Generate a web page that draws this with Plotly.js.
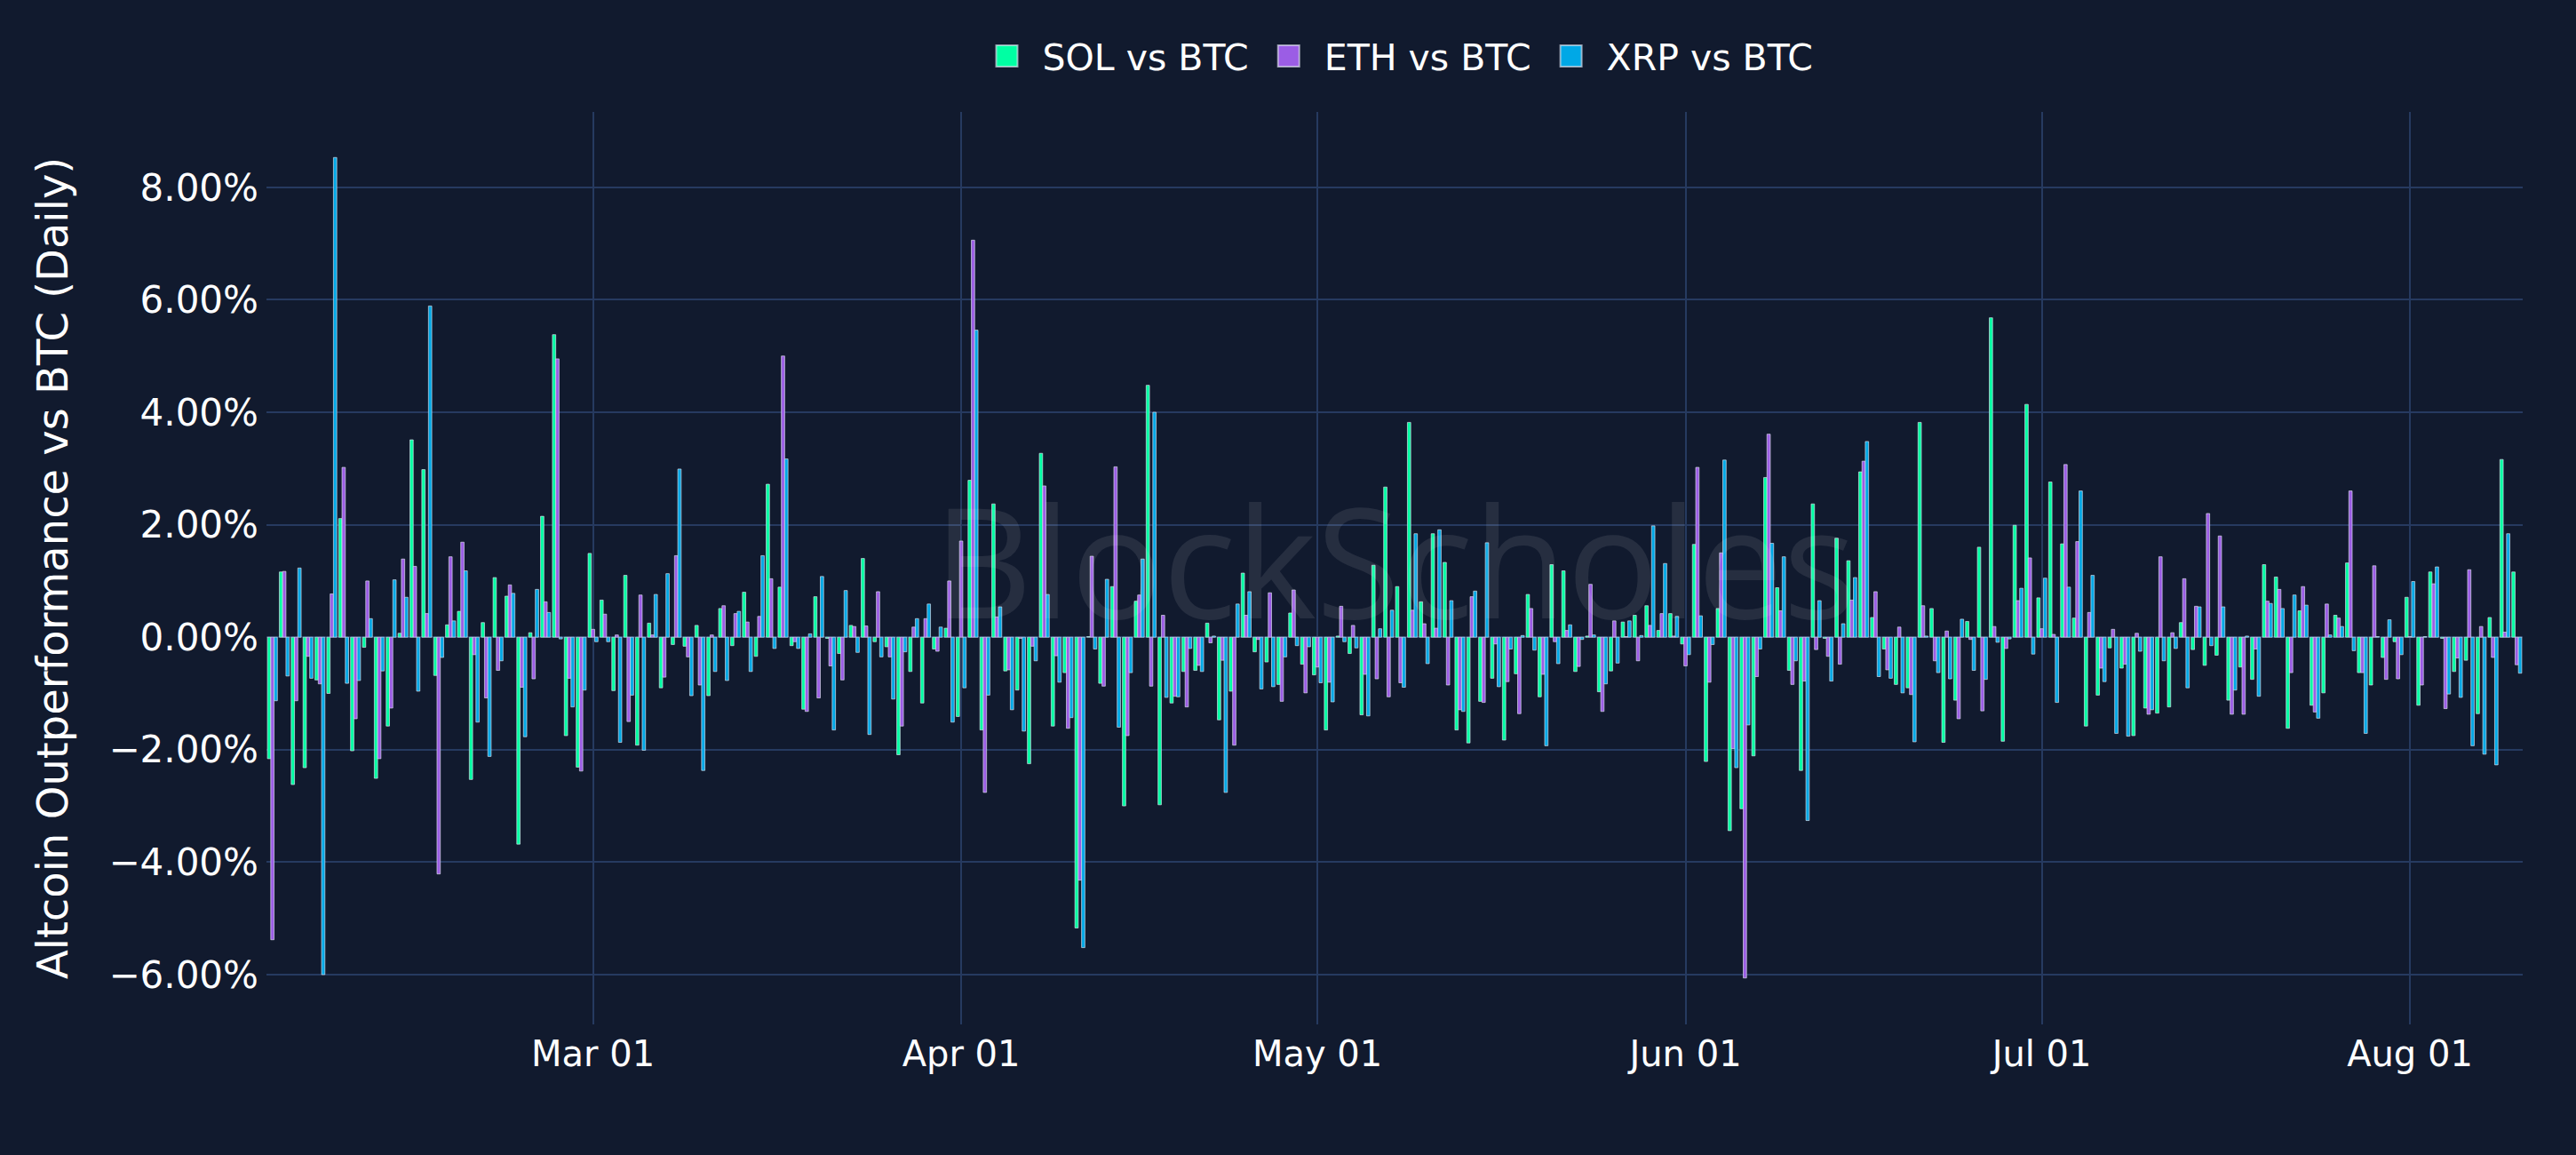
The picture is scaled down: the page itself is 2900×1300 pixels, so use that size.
<!DOCTYPE html>
<html>
<head>
<meta charset="utf-8">
<script src="https://cdn.plot.ly/plotly-3.0.1.min.js"></script>
<style>
  html, body { margin: 0; padding: 0; background: #111a2e; }
  #chart { width: 2900px; height: 1300px; }
</style>
</head>
<body>
<div id="chart"></div>
<script>
// daily outperformance vs BTC, in percent, one value per day from startDate
const startDate = '2024-02-03';
const dayCount = 190;

const seriesNames = ['SOL vs BTC', 'ETH vs BTC', 'XRP vs BTC'];
const seriesColors = ['#00ffa3', '#9b5de5', '#00a8e6'];

const solVsBtc = [
  -2.16, 1.16, -2.62, -2.32, -0.76, -1.00, 2.11, -2.02, -0.18, -2.51,
  -1.58, 0.07, 3.51, 2.98, -0.68, 0.22, 0.46, -2.53, 0.26, 1.06,
  0.73, -3.68, 0.08, 2.15, 5.38, -1.75, -2.31, 1.49, 0.66, -0.95,
  1.10, -1.92, 0.25, -0.90, -0.13, -0.16, 0.21, -1.04, 0.51, -0.15,
  0.80, -0.34, 2.72, 0.89, -0.15, -1.28, 0.72, -0.02, -0.29, 0.21,
  1.40, -0.08, -0.17, -2.09, -0.61, -1.17, -0.21, 0.16, -1.41, 2.79,
  -1.65, 2.37, -0.60, -0.94, -2.25, 3.27, -1.58, -0.63, -5.17, 0.01,
  -0.82, 0.90, -3.00, 0.64, 4.48, -2.98, -1.17, -0.61, -0.59, 0.25,
  -1.47, -0.96, 1.14, -0.26, -0.44, -0.84, 0.43, -0.48, -0.67, -1.65,
  0.02, -0.29, -1.38, 1.28, 2.67, 0.90, 3.82, 0.63, 1.84, 1.33,
  -1.65, -1.88, -1.14, -0.73, -1.83, -0.65, 0.76, -1.06, 1.29, 1.18,
  -0.61, 0.02, -0.97, -0.60, 0.27, 0.39, 0.56, 0.12, 0.42, -0.12,
  1.65, -2.21, 0.51, -3.44, -3.05, -2.11, 2.84, 0.88, -0.59, -2.37,
  2.37, -0.02, 1.76, 1.36, 2.94, 0.35, -0.21, -0.84, -0.90, 3.82,
  0.51, -1.87, -1.12, 0.28, 1.60, 5.68, -1.85, 1.99, 4.14, 0.70,
  2.76, 1.66, 0.34, -1.58, -1.03, -0.19, -0.55, -1.75, -1.26, -1.35,
  -1.24, 0.26, -0.22, -0.50, -0.32, -1.12, -0.53, -0.75, 1.29, 1.07,
  -1.62, 0.47, -1.21, -0.99, 0.39, 1.32, -0.63, -0.85, -0.36, -0.08,
  0.71, -1.21, 1.16, -0.02, -0.61, -0.41, -1.36, 0.35, 3.16, 1.16
];

const ethVsBtc = [
  -5.38, 1.17, -1.13, -0.34, -0.83, 0.77, 3.02, -1.45, 1.00, -2.16,
  -1.26, 1.39, 1.26, 0.42, -4.21, 1.43, 1.69, -0.31, -1.08, -0.59,
  0.93, -0.89, -0.74, 0.63, 4.95, -0.73, -2.38, 0.14, 0.41, 0.04,
  -1.50, 0.75, 0.04, -0.71, 1.45, -0.35, -0.85, 0.04, 0.56, 0.42,
  0.27, 0.37, 1.04, 5.00, -0.08, -1.32, -1.08, -0.51, -0.76, 0.19,
  0.20, 0.81, -0.35, -1.58, 0.18, 0.33, -0.25, 1.00, 1.71, 7.06,
  -2.76, 0.36, -0.58, -0.02, -0.16, 2.69, -0.33, -1.62, -4.32, 1.44,
  -0.87, 3.03, -1.75, 0.75, -0.87, 0.39, -1.05, -1.24, -0.50, -0.10,
  -0.41, -1.92, 0.39, -0.04, 0.79, -1.14, 0.84, -0.99, -0.53, -0.80,
  0.55, 0.21, -0.66, -0.74, -1.06, -0.81, 0.48, 0.24, 0.16, -0.85,
  -1.29, 0.72, -1.16, -0.12, -0.79, -1.36, 0.51, -0.66, -0.08, 0.12,
  -0.52, 0.94, -1.32, 0.29, 0.01, -0.42, 0.21, 0.42, 0.02, -0.51,
  3.02, -0.80, 1.50, -1.98, -6.06, -0.70, 3.61, 0.47, -0.84, -0.78,
  -0.22, -0.34, -0.48, 0.66, 3.13, 0.81, -0.58, 0.18, -1.02, 0.56,
  -0.42, 0.11, -1.45, -0.04, -1.31, 0.19, -0.20, 0.65, 1.41, 0.15,
  0.05, 3.07, 1.70, 0.44, -0.55, 0.14, -0.48, 0.07, -1.37, 1.43,
  0.08, 1.04, 0.55, 2.20, 1.80, -1.37, -1.37, -0.21, 0.64, 0.85,
  -0.63, 0.90, -1.33, 0.59, 0.34, 2.60, -0.63, 1.27, -0.75, -0.74,
  0.01, -0.85, 0.95, -1.27, -0.37, 1.20, 0.19, -0.36, 0.09, -0.49
];

const xrpVsBtc = [
  -1.13, -0.69, 1.23, -0.73, -6.00, 8.53, -0.82, -0.77, 0.33, -0.60,
  1.02, 0.71, -0.96, 5.89, -0.36, 0.29, 1.18, -1.51, -2.12, -0.42,
  0.78, -1.77, 0.85, 0.44, -0.03, -1.24, -0.94, -0.08, -0.08, -1.87,
  -1.03, -2.01, 0.76, 1.13, 2.99, -1.04, -2.37, -0.61, -0.77, 0.46,
  -0.61, 1.45, -0.20, 3.17, -0.20, 0.06, 1.08, -1.65, 0.83, -0.27,
  -1.73, -0.35, -1.10, -0.26, 0.33, 0.59, 0.18, -1.51, -0.90, 5.46,
  -1.03, 0.54, -1.29, -1.67, -0.42, 0.76, -0.80, -1.43, -5.52, -0.21,
  1.03, -1.60, -0.63, 1.39, 4.00, -1.07, -1.06, -0.20, -0.61, 0.02,
  -2.76, 0.59, 0.81, -0.92, -0.88, -0.35, -0.15, -0.17, -0.81, -1.15,
  -0.08, -0.19, -1.40, 0.15, 0.48, -0.89, 1.84, -0.47, 1.91, 0.65,
  -1.32, 0.82, 1.68, -0.88, -0.21, 0.03, -0.23, -1.93, -0.47, 0.22,
  -0.04, 0.04, -0.83, -0.46, 0.29, 0.03, 1.98, 1.31, 0.37, -0.31,
  0.38, -0.13, 3.15, -2.32, -1.56, -0.21, 1.67, 1.43, -0.42, -3.26,
  0.65, -0.78, 0.24, 1.06, 3.48, -0.70, -0.73, -0.99, -1.86, 0.02,
  -0.63, -0.74, 0.32, -0.59, -0.75, -0.09, -0.03, 0.87, -0.30, 1.05,
  -1.16, 0.89, 2.60, 1.10, -0.79, -1.71, -1.76, -0.25, -1.29, -0.42,
  -0.20, -0.90, 0.54, -0.15, 0.54, -0.94, 0.02, -1.05, 0.60, 0.51,
  0.75, 0.57, -1.44, 0.04, 0.19, -0.24, -1.71, 0.01, 0.31, -0.31,
  0.99, 0.01, 1.25, -1.01, -1.07, -1.93, -2.08, -2.27, 1.84, -0.64
];

function buildDates(start, n) {
  let dates = [];
  let d = new Date(start + 'T00:00:00Z');
  for (let i = 0; i < n; i++) {
    dates.push(d.toISOString().split('T')[0]);
    d.setUTCDate(d.getUTCDate() + 1);
  }
  return dates;
}

const dates = buildDates(startDate, dayCount);
const allValues = [solVsBtc, ethVsBtc, xrpVsBtc];

let data = [];
for (let i = 0; i < allValues.length; i++) {
  data.push({
    type: 'bar',
    name: seriesNames[i],
    x: dates,
    y: allValues[i],
    marker: {
      color: seriesColors[i],
      line: {color: 'rgba(225,228,240,0.65)', width: 1}
    },
    hovertemplate: '%{x}<br>%{y:.2f}%<extra>' + seriesNames[i] + '</extra>'
  });
}

const fontFamily = '"DejaVu Sans", Verdana, sans-serif';

let layout = {
  width: 2900,
  height: 1300,
  paper_bgcolor: '#111a2e',
  plot_bgcolor: '#111a2e',
  font: {family: fontFamily, color: '#ffffff', size: 40},
  margin: {l: 300, r: 60, t: 126, b: 147},
  barmode: 'group',
  bargap: 0.16,
  bargroupgap: 0,
  showlegend: true,
  legend: {
    orientation: 'h',
    x: 0.5,
    xanchor: 'center',
    y: 1.061,
    yanchor: 'middle',
    itemwidth: 70,
    font: {size: 41, color: '#ffffff'},
    bgcolor: 'rgba(0,0,0,0)'
  },
  xaxis: {
    type: 'date',
    range: ['2024-02-02 12:00', '2024-08-10 12:00'],
    tick0: '2024-01-01',
    dtick: 'M1',
    tickformat: '%b %d',
    showgrid: true,
    gridcolor: '#263a60',
    gridwidth: 2,
    zeroline: false,
    showline: false,
    ticks: '',
    ticklabelstandoff: 6,
    tickfont: {size: 40, color: '#ffffff'}
  },
  yaxis: {
    range: [-6.885, 9.34],
    tick0: 0,
    dtick: 2,
    tickformat: '.2f',
    ticksuffix: '%',
    showgrid: true,
    gridcolor: '#263a60',
    gridwidth: 2,
    zeroline: false,
    showline: false,
    ticks: '',
    ticklabelstandoff: 8,
    tickfont: {size: 42, color: '#ffffff'},
    title: {
      text: 'Altcoin Outperformance vs BTC (Daily)',
      font: {size: 48, color: '#ffffff'},
      standoff: 30
    }
  },
  annotations: [{
    xref: 'paper',
    yref: 'paper',
    x: 0.5,
    y: 0.51,
    text: 'BlockScholes',
    showarrow: false,
    font: {family: '"Open Sans", sans-serif', size: 172, color: 'rgba(255,255,255,0.09)'}
  }]
};

Plotly.newPlot('chart', data, layout, {displayModeBar: false, staticPlot: true}).then(function (gd) {
  // legend bar swatches are a fixed 12px square; draw them twice as big
  gd.querySelectorAll('.legendpoints path').forEach(function (p) {
    let t = p.getAttribute('transform') || '';
    p.setAttribute('transform', t + ' scale(2)');
  });
});
</script>
</body>
</html>
